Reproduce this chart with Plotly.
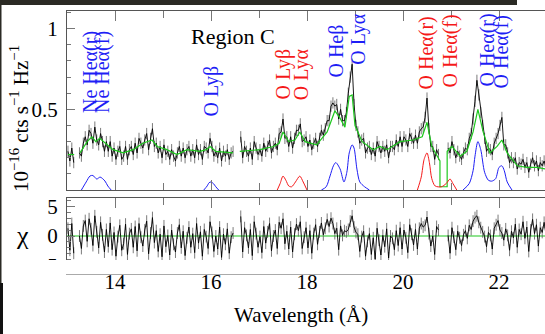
import numpy as np
import plotly.graph_objects as go

# ---------------- data ----------------
# spectral bins (Angstrom)
wl = np.round(np.arange(13.02, 23.0, 0.04), 2)

# observed flux (1e-16 cts s^-1 Hz^-1), None = no coverage
flux = [
    .24, .18, .26, .17, None, None, .23, .21, .29, .33,
    .28, .37, .35, .29, .39, .31, .28, .35, .30, .24,
    .30, .24, .30, .21, .26, .19, .24, .27, .19, .21,
    .27, .19, .25, .27, .22, .29, .23, .32, .29, .26,
    .31, .35, .25, .32, .38, .27, .29, .23, .27, .20,
    .28, .22, .24, .19, .25, .21, .18, .23, .27, .21,
    .26, .20, .25, .27, .21, .25, .20, .28, .22, .25,
    .19, .27, .26, .23, .32, .27, .21, .24, .20, .26,
    .18, .24, .21, .25, .19, .23, .24, None, None, None,
    .33, .20, .27, .24, .21, .26, .19, .30, .26, .22,
    .25, .21, .29, .24, .27, .31, .23, .27, .29, .25,
    .35, .36, .44, .32, .33, .27, .33, .26, .32, .37,
    .37, .41, .30, .31, .33, .27, .31, .25, .29, .32,
    .27, .32, .37, .34, .38, .43, .43, .52, .54, .52,
    .53, .44, .50, .43, .43, .48, .60, .70, .78, .53,
    .40, .36, .29, .31, .32, .23, .26, .27, .22, .26,
    .21, .30, .27, .23, .27, .24, .28, .20, .27, .27,
    .25, .31, .27, .33, .27, .33, .31, .27, .35, .32,
    .29, .34, .29, .36, .38, .39, .45, .57, .38, .27,
    .27, .19, .25, .22, None, None, None, None, .26, .23,
    .30, .25, .20, .24, .21, .19, .23, .26, .25, .32,
    .35, .44, .55, .68, .59, .48, .40, .32, .24, .26,
    .25, .22, .29, .32, .35, .40, .45, .28, .28, .23,
    .17, .20, .17, .20, .13, .17, .16, .19, .14, .17,
    .11, .16, .20, .15, .18, .12, .17, .15, .18, .14,
]
flux_err = 0.035

# residuals (chi)
chi = [
    1.3, -2.4, 2.1, -2.9, None, None, 0.0, -2.1, 1.7, 2.6,
    -0.9, 2.9, 1.2, -1.6, 3.4, 0.7, -2.0, 2.3, 0.2, -2.7,
    1.1, -1.8, 2.2, -2.3, 0.6, -3.4, -0.1, 1.8, -2.4, -1.3,
    2.0, -3.1, 0.4, 1.2, -1.9, 1.6, -2.5, 2.1, -0.2, -1.7,
    1.0, 2.5, -3.0, 0.5, 3.1, -1.1, 0.9, -2.6, 0.3, -3.5,
    1.7, -1.8, 0.1, -3.2, 1.0, -1.4, -2.7, 0.5, 1.9, -2.0,
    0.8, -3.3, -0.3, 1.5, -1.9, 0.4, -2.8, 2.1, -1.2, 0.7,
    -3.4, 1.1, -0.1, -2.1, 2.4, 0.6, -2.6, 0.0, -2.2, 1.5,
    -3.6, 0.3, -1.4, 1.2, -2.9, -0.2, 0.5, None, None, None,
    3.3, -2.7, 1.4, 0.1, -2.0, 1.1, -3.3, 2.4, 0.4, -1.9,
    -0.1, -2.8, 1.6, -1.2, 0.7, 2.1, -2.5, 0.0, 1.0, -2.1,
    2.3, 1.3, 2.9, -1.3, 0.8, -2.2, 1.5, -2.7, 0.3, 2.0,
    0.9, 2.4, -2.1, -0.2, 1.4, -2.0, 0.9, -2.9, 0.4, 1.9,
    -1.4, 0.7, 2.2, 0.2, 1.3, 2.8, 1.6, 3.0, 2.1, 0.4,
    1.3, -2.3, 1.7, 0.1, 0.9, 0.7, 1.1, 2.5, 3.4, 1.5,
    0.6, 0.3, -2.6, -0.1, 0.8, -3.4, -0.9, 0.4, -3.1, -0.3,
    -3.9, 1.3, -0.7, -3.2, 0.1, -1.8, 1.2, -3.7, 0.0, -0.4,
    -2.3, 0.9, -1.6, 1.4, -2.2, 1.0, -0.3, -2.8, 1.9, 0.3,
    -1.5, 1.1, -2.2, 1.3, 2.1, 1.5, 1.8, 3.2, 0.4, -1.7,
    0.0, -3.1, 1.6, 1.0, None, None, None, None, 0.1, -2.9,
    1.4, -0.2, -2.3, 0.8, -0.3, -1.6, 0.2, 0.9, -0.4, 1.8,
    1.1, 2.5, 3.1, 3.4, 2.3, 1.4, 0.7, -0.1, -1.8, 0.6,
    0.1, -2.2, 1.3, 1.9, 2.6, 1.0, 0.5, -0.7, 1.2, 0.1,
    -2.4, 0.8, -0.3, 2.0, -1.9, 1.1, 0.3, 2.4, -0.4, 1.5,
    -2.6, 1.0, 2.8, 0.4, 1.9, -1.7, 1.4, 0.6, 2.3, 0.2,
]
chi_err = 1.0

# best-fit model
model_wl = [13.02, 13.15, None, 13.27, 13.42, 13.52, 13.60, 13.68, 13.83, 13.96,
            14.17, 14.38, 14.58, 14.77, 14.88, 15.08, 15.29, 15.50, 15.77, 15.90,
            15.98, 16.10, 16.46, None, 16.60, 17.02, 17.30, 17.42, 17.50, 17.62,
            17.75, 17.85, 17.96, 18.20, 18.42, 18.58, 18.68, 18.79, 18.88, 18.94,
            19.00, 19.15, 19.38, 19.52, 19.67, 19.94, 20.21, 20.40, 20.50, 20.60,
            20.77, 20.77, 20.92, 20.92, 21.02, 21.19, 21.33, 21.46, 21.56, 21.67,
            21.81, 21.96, 22.06, 22.17, 22.38, 22.58, 22.79, 22.98]
model_flux = [0.22, 0.22, None, 0.23, 0.30, 0.33, 0.30, 0.32, 0.28, 0.25,
              0.23, 0.25, 0.29, 0.31, 0.27, 0.25, 0.22, 0.25, 0.24, 0.25,
              0.27, 0.24, 0.23, None, 0.24, 0.25, 0.27, 0.29, 0.36, 0.30,
              0.31, 0.36, 0.30, 0.28, 0.36, 0.49, 0.45, 0.39, 0.58, 0.59,
              0.40, 0.30, 0.25, 0.27, 0.25, 0.30, 0.31, 0.33, 0.42, 0.27,
              0.18, 0.02, 0.02, 0.24, 0.27, 0.21, 0.24, 0.36, 0.50, 0.36,
              0.23, 0.27, 0.31, 0.23, 0.15, 0.14, 0.14, 0.13]

# line components (blue: rest frame / red: shifted)
blue_wl = [13.30, 13.40, 13.48, 13.54, 13.62, 13.69, 13.79, 13.85, 13.92, None,
           15.85, 15.92, 15.96, 16.00, 16.05, 16.10, 16.16, None,
           18.30, 18.40, 18.48, 18.55, 18.60, 18.69, 18.77, 18.83, 18.88, 18.94,
           18.98, 19.04, 19.10, 19.20, 19.30, None,
           21.25, 21.38, 21.46, 21.50, 21.56, 21.62, 21.70, 21.78, 21.85, 21.93,
           22.00, 22.06, 22.11, 22.17, 22.27]
blue_flux = [0, 0.05, 0.087, 0.09, 0.068, 0.08, 0.056, 0.025, 0, None,
             0, 0.025, 0.045, 0.05, 0.04, 0.02, 0, None,
             0, 0.02, 0.087, 0.15, 0.17, 0.13, 0.05, 0.11, 0.23, 0.28,
             0.26, 0.13, 0.05, 0.02, 0, None,
             0, 0.04, 0.12, 0.21, 0.30, 0.25, 0.11, 0.06, 0.055, 0.07,
             0.14, 0.15, 0.12, 0.05, 0]
red_wl = [17.38, 17.44, 17.50, 17.56, 17.62, 17.68, 17.76, 17.85, 17.92, 18.00, None,
          20.30, 20.38, 20.44, 20.50, 20.55, 20.60, 20.67, 20.80, 20.90, 20.98,
          21.04, 21.12]
red_flux = [0, 0.04, 0.086, 0.06, 0.025, 0.02, 0.05, 0.086, 0.05, 0, None,
            0, 0.08, 0.19, 0.23, 0.17, 0.07, 0.025, 0.02, 0.04, 0.068,
            0.04, 0]

# line identifications: (text, wavelength, label base, colour key)
line_labels = [
    ("Ne Heα(r)", 13.48, 0.465, "b"),
    ("Ne Heα(f)", 13.73, 0.465, "b"),
    ("O Lyβ", 16.02, 0.446, "b"),
    ("O Lyβ", 17.50, 0.546, "r"),
    ("O Lyα", 17.90, 0.546, "r"),
    ("O Heβ", 18.625, 0.682, "b"),
    ("O Lyα", 19.08, 0.763, "b"),
    ("O Heα(r)", 20.48, 0.608, "r"),
    ("O Heα(f)", 20.98, 0.62, "r"),
    ("O Heα(r)", 21.77, 0.632, "b"),
    ("O Heα(f)", 22.06, 0.62, "b"),
]

major_ticks = [14, 16, 18, 20, 22]
major_text = ["14", "16", "18", "20", "22"]
minor_ticks = [13, 15, 17, 19, 21]

# ---------------- layout helpers ----------------
W, H = 545, 334
ML, MT, MB = 67, 11, 60
PW, PH = W - ML, H - MT - MB


def px(x):
    return (x - ML) / PW


def py(y):
    return (H - MB - y) / PH


FONT = "Liberation Serif"
BLUE = "rgb(30,30,245)"
RED = "rgb(245,25,25)"
GREEN = "rgb(30,200,30)"
AXC = "#555555"
TKC = "#777777"

fig = go.Figure()

fig.add_trace(go.Scatter(
    x=wl, y=flux, mode="lines", line=dict(color="black", width=0.9),
    error_y=dict(type="constant", value=flux_err, color="rgba(90,90,90,0.8)",
                 thickness=1, width=0),
    xaxis="x", yaxis="y", showlegend=False, hoverinfo="skip"))
fig.add_trace(go.Scatter(
    x=model_wl, y=model_flux, mode="lines", line=dict(color=GREEN, width=1.2),
    xaxis="x", yaxis="y", showlegend=False, hoverinfo="skip"))
fig.add_trace(go.Scatter(
    x=blue_wl, y=blue_flux, mode="lines",
    line=dict(color=BLUE, width=1, shape="spline", smoothing=0.8),
    xaxis="x", yaxis="y", showlegend=False, hoverinfo="skip"))
fig.add_trace(go.Scatter(
    x=red_wl, y=red_flux, mode="lines",
    line=dict(color=RED, width=1, shape="spline", smoothing=0.8),
    xaxis="x", yaxis="y", showlegend=False, hoverinfo="skip"))

fig.add_trace(go.Scatter(
    x=wl, y=chi, mode="lines", line=dict(color="black", width=0.9),
    error_y=dict(type="constant", value=chi_err, color="rgba(90,90,90,0.8)",
                 thickness=1, width=0),
    xaxis="x2", yaxis="y2", showlegend=False, hoverinfo="skip"))

annotations = []
for text, x, y, c in line_labels:
    annotations.append(dict(
        text=text, x=x, y=y, xref="x", yref="y", showarrow=False,
        textangle=-90, xanchor="center", yanchor="bottom",
        font=dict(family=FONT, size=20, color=BLUE if c == "b" else RED)))

annotations += [
    dict(text="Region C", x=px(233), y=py(36), xref="paper", yref="paper",
         showarrow=False, xanchor="center", yanchor="middle",
         font=dict(family=FONT, size=22, color="black")),
    dict(text="10<sup>−16</sup> cts s<sup>−1</sup> Hz<sup>−1</sup>",
         x=px(20), y=py(119), xref="paper", yref="paper", showarrow=False,
         textangle=-90, xanchor="center", yanchor="middle",
         font=dict(family=FONT, size=21, color="black")),
    dict(text="χ", x=px(22), y=py(235), xref="paper", yref="paper",
         showarrow=False, xanchor="center", yanchor="middle",
         font=dict(family=FONT, size=26, color="black")),
    dict(text="Wavelength (Å)", x=px(301), y=py(315), xref="paper", yref="paper",
         showarrow=False, xanchor="center", yanchor="middle",
         font=dict(family=FONT, size=21, color="black")),
]

shapes = [
    # zero line of the residual panel
    dict(type="line", xref="paper", yref="y2", x0=0, x1=1, y0=0, y1=0,
         line=dict(color=GREEN, width=1.2), layer="below"),
    # lower edge of the residual panel is trimmed
    dict(type="rect", xref="paper", yref="paper", x0=-0.2, x1=1.1,
         y0=py(274.5), y1=py(260), fillcolor="white", line=dict(width=0),
         layer="above"),
    # dark frame edges
    dict(type="rect", xref="paper", yref="paper", x0=px(0), x1=px(517),
         y0=py(5), y1=py(-2), fillcolor="#2b2a24", line=dict(width=0),
         layer="above"),
    dict(type="rect", xref="paper", yref="paper", x0=px(-1), x1=px(1.5),
         y0=py(283), y1=py(0), fillcolor="#2b2a24", line=dict(width=0),
         layer="above"),
    dict(type="rect", xref="paper", yref="paper", x0=px(-1), x1=px(3),
         y0=py(335), y1=py(283), fillcolor="#111111", line=dict(width=0),
         layer="above"),
]

xcommon = dict(range=[13.0, 13.0 + PW / 48.0], showline=True, linecolor=AXC,
               linewidth=1, mirror="ticks", ticks="inside", ticklen=10,
               tickcolor=TKC, tickwidth=1, tickmode="array",
               tickvals=major_ticks, ticktext=major_text,
               minor=dict(tickvals=minor_ticks, ticks="inside", ticklen=7,
                          tickcolor=TKC),
               showgrid=False, zeroline=False,
               tickfont=dict(family=FONT, size=21, color="black"))

fig.update_layout(
    width=W, height=H,
    margin=dict(l=ML, r=0, t=MT, b=MB),
    paper_bgcolor="white", plot_bgcolor="white",
    showlegend=False,
    font=dict(family=FONT),
    xaxis=dict(xcommon, domain=[0, 1], anchor="y", showticklabels=False,
               matches="x2"),
    xaxis2=dict(xcommon, domain=[0, 1], anchor="y2", showticklabels=True,
                ticklabelstandoff=-11),
    yaxis=dict(domain=[py(190), 1], range=[0, 1.11], anchor="x",
               showline=True, linecolor=AXC, linewidth=1, ticks="inside",
               ticklen=8, tickcolor=TKC, tickmode="array", tickvals=[0.5, 1],
               ticktext=["0.5", "1"],
               minor=dict(dtick=0.1, ticks="inside", ticklen=4, tickcolor=TKC),
               showgrid=False, zeroline=False, ticklabelstandoff=4,
               tickfont=dict(family=FONT, size=21, color="black")),
    yaxis2=dict(domain=[0, py(198)], range=[-6.4, 6.4], anchor="x2",
                showline=True, linecolor=AXC, linewidth=1, ticks="inside",
                ticklen=8, tickcolor=TKC, tickmode="array",
                tickvals=[-5, 0, 5], ticktext=["-5", "0", "5"],
                minor=dict(dtick=1, ticks="inside", ticklen=4, tickcolor=TKC),
                showgrid=False, zeroline=False, ticklabelstandoff=4,
                tickfont=dict(family=FONT, size=21, color="black")),
    annotations=annotations,
    shapes=shapes,
)

fig.write_html("out.html")
